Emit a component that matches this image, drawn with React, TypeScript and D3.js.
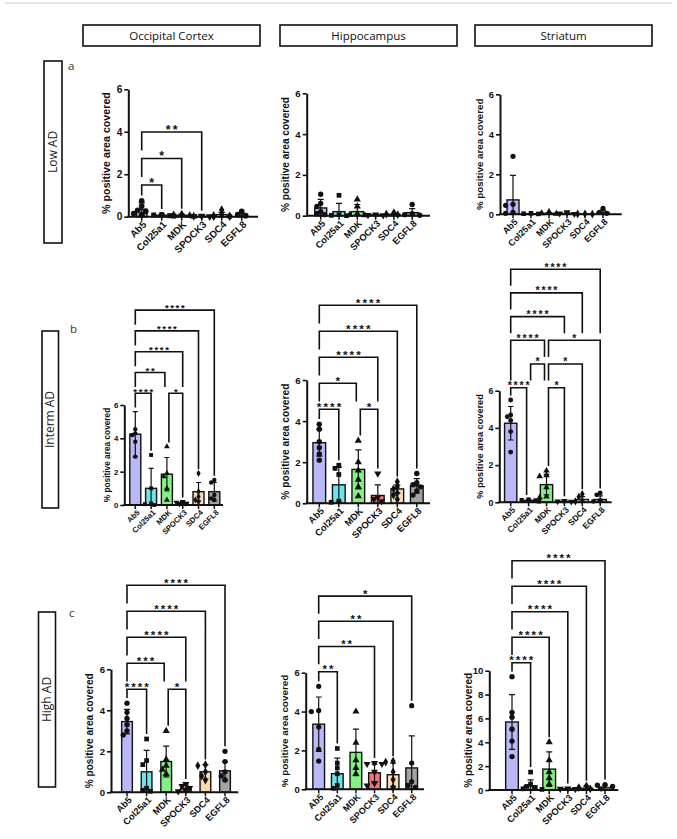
import React, { useEffect, useRef } from 'react';
import * as d3 from 'd3';

const W = 677;
const H = 839;

const categories = ['Ab5', 'Col25a1', 'MDK', 'SPOCK3', 'SDC4', 'EGFL8'];
const regions = ['Occipital Cortex', 'Hippocampus', 'Striatum'];
const stages = ['Low AD', 'Interm AD', 'High AD'];
const stageLetters = ['a', 'b', 'c'];
const ticksSix = [0, 2, 4, 6];
const ticksTen = [0, 2, 4, 6, 8, 10];
const yLabel = '% positive area covered';

// [from, to, stars, stack level]
type Sig = [number, number, string, number];

// ---- Low AD ----
const ocLowMean = [0.35, 0.07, 0.07, 0.02, 0.1, 0.08];
const ocLowSd = [0.3, 0.04, 0.04, 0.01, 0.1, 0.08];
const ocLowPts = [[0.75, 0.5, 0.3, 0.25, 0.15, 0.1], [0.1, 0.08, 0.05, 0.03], [0.12, 0.08, 0.05, 0.02], [0.03, 0.02, 0.01, 0.0], [0.32, 0.1, 0.05, 0.02], [0.25, 0.1, 0.05, 0.02]];
const ocLowSig: Sig[] = [[0, 1, '*', 0], [0, 2, '*', 1], [0, 3, '**', 2]];

const hcLowMean = [0.38, 0.2, 0.2, 0.04, 0.07, 0.15];
const hcLowSd = [0.42, 0.4, 0.35, 0.02, 0.05, 0.2];
const hcLowPts = [[1.05, 0.6, 0.45, 0.2, 0.1, 0.05], [1.0, 0.05, 0.02, 0.0], [0.8, 0.45, 0.1, 0.05, 0.02], [0.05, 0.03, 0.02], [0.15, 0.08, 0.05], [0.55, 0.1, 0.05, 0.02]];
const hcLowSig: Sig[] = [];

const stLowMean = [0.72, 0.03, 0.05, 0.04, 0.02, 0.1];
const stLowSd = [1.23, 0.01, 0.03, 0.03, 0.01, 0.1];
const stLowPts = [[2.9, 0.5, 0.45, 0.1, 0.05], [0.05, 0.03, 0.02], [0.12, 0.05, 0.03], [0.1, 0.04, 0.02], [0.03, 0.02, 0.01], [0.3, 0.1, 0.05]];
const stLowSig: Sig[] = [];

// ---- Interm AD ----
const ocIntMean = [4.25, 1.0, 1.85, 0.15, 0.8, 0.8];
const ocIntSd = [1.35, 1.2, 1.0, 0.05, 0.55, 0.55];
const ocIntPts = [[4.55, 4.3, 4.2, 3.8, 2.9], [3.0, 1.0, 0.1, 0.05, 0.0], [3.5, 1.9, 1.7, 1.0, 0.3], [0.2, 0.15, 0.1, 0.05], [1.9, 0.8, 0.5, 0.3, 0.2], [1.5, 1.35, 0.6, 0.4, 0.3]];
const ocIntSig: Sig[] = [[0, 1, '****', 0], [2, 3, '*', 0], [0, 2, '**', 1], [0, 3, '****', 2], [0, 4, '****', 3], [0, 5, '****', 4]];

const hcIntMean = [2.95, 0.9, 1.65, 0.38, 0.7, 0.85];
const hcIntSd = [0.65, 0.85, 0.95, 0.52, 0.2, 0.35];
const hcIntPts = [[3.85, 3.6, 3.0, 2.7, 2.4, 2.1], [1.85, 1.7, 1.4, 0.1, 0.05], [3.05, 2.0, 1.6, 1.15, 0.8, 0.35], [1.45, 0.3, 0.2, 0.1], [1.05, 0.8, 0.7, 0.5, 0.4, 0.2], [1.45, 1.0, 0.9, 0.8, 0.6, 0.4]];
const hcIntSig: Sig[] = [[0, 1, '****', 0], [2, 3, '*', 0], [0, 2, '*', 1], [0, 3, '****', 2], [0, 4, '****', 3], [0, 5, '****', 4]];

const stIntMean = [4.25, 0.1, 0.95, 0.05, 0.15, 0.15];
const stIntSd = [0.9, 0.05, 0.55, 0.03, 0.15, 0.2];
const stIntPts = [[5.5, 4.7, 4.6, 4.4, 3.8, 2.7], [0.15, 0.12, 0.1, 0.05], [1.7, 1.45, 1.4, 0.8, 0.3, 0.25], [0.08, 0.05, 0.03], [0.45, 0.3, 0.1, 0.05], [0.5, 0.4, 0.1, 0.05]];
const stIntSig: Sig[] = [[0, 1, '****', 0], [2, 3, '*', 0], [1, 2, '*', 1], [2, 4, '*', 1], [0, 2, '****', 2], [2, 5, '*', 2], [0, 3, '****', 3], [0, 4, '****', 4], [0, 5, '****', 5]];

// ---- High AD ----
const ocHighMean = [3.45, 1.0, 1.5, 0.2, 1.0, 1.05];
const ocHighSd = [0.6, 1.05, 0.75, 0.15, 0.35, 0.45];
const ocHighPts = [[4.35, 3.9, 3.6, 3.3, 3.0, 2.8], [2.6, 1.55, 1.35, 0.2, 0.1, 0.05], [3.0, 1.6, 1.3, 1.1, 0.9], [0.4, 0.3, 0.2, 0.1, 0.05], [1.35, 1.3, 1.0, 0.8, 0.6], [2.0, 1.5, 1.0, 0.8, 0.6]];
const ocHighSig: Sig[] = [[0, 1, '****', 0], [2, 3, '*', 0], [0, 2, '***', 1], [0, 3, '****', 2], [0, 4, '****', 3], [0, 5, '****', 4]];

const hcHighMean = [3.35, 0.8, 1.9, 0.85, 0.75, 1.1];
const hcHighSd = [1.4, 0.8, 1.2, 0.45, 0.6, 1.65];
const hcHighPts = [[5.3, 4.05, 4.0, 3.2, 2.05, 1.45], [2.1, 1.35, 1.1, 0.8, 0.2, 0.05], [4.0, 2.4, 1.5, 1.1, 0.8], [1.35, 1.3, 1.3, 0.9, 0.3, 0.2], [1.45, 1.4, 0.9, 0.5, 0.1], [4.3, 1.35, 0.4, 0.2, 0.1]];
const hcHighSig: Sig[] = [[0, 1, '**', 0], [0, 3, '**', 1], [0, 4, '**', 2], [0, 5, '*', 3]];

const stHighMean = [5.7, 0.35, 1.75, 0.1, 0.15, 0.2];
const stHighSd = [2.3, 0.5, 1.45, 0.03, 0.15, 0.2];
const stHighPts = [[9.5, 6.5, 6.1, 5.1, 4.1, 2.8], [1.5, 0.5, 0.3, 0.2, 0.1, 0.05], [4.0, 2.5, 1.5, 1.0, 0.5], [0.12, 0.1, 0.08], [0.35, 0.2, 0.1], [0.45, 0.4, 0.3, 0.1]];
const stHighSig: Sig[] = [[0, 1, '****', 0], [0, 2, '****', 1], [0, 3, '****', 2], [0, 4, '****', 3], [0, 5, '****', 4]];

// styling
const barColors = ['#b9b9f7', '#6fe3ea', '#84f184', '#f27474', '#fbd9b0', '#a3a3a3'];
const symbolTypes = [d3.symbolCircle, d3.symbolSquare, d3.symbolTriangle, d3.symbolTriangle, d3.symbolDiamond, d3.symbolCircle];
const flipSymbol = [false, false, false, true, false, false];
const axisFont = '"Liberation Sans", Arial, sans-serif';
const boxFont = '"Open Sans", "Noto Sans", sans-serif';

// frame layout
const headerX = [83, 280, 475];
const rowBoxes = [
  { x: 44, y: 61, w: 18, h: 182, lx: 68, ly: 70 },
  { x: 42, y: 331, w: 16.5, h: 177, lx: 70, ly: 333 },
  { x: 38.5, y: 612, w: 17, h: 175, lx: 69, ly: 617 },
];

interface Panel {
  mean: number[]; sd: number[]; pts: number[][]; sig: Sig[];
  yMax: number; ticks: number[];
  ax: number; yTop: number; y0: number; first: number; step: number; xEnd: number;
  barW: number; fs: number; base: number; gap: number;
}

const panels: Panel[] = [
  { mean: ocLowMean, sd: ocLowSd, pts: ocLowPts, sig: ocLowSig, yMax: 6, ticks: ticksSix, ax: 128.3, yTop: 89.3, y0: 216.7, first: 141.7, step: 20, xEnd: 258, barW: 10.5, fs: 10.7, base: 185, gap: 26.5 },
  { mean: hcLowMean, sd: hcLowSd, pts: hcLowPts, sig: hcLowSig, yMax: 6, ticks: ticksSix, ax: 306.7, yTop: 93.3, y0: 215.7, first: 320.7, step: 18.3, xEnd: 430, barW: 12, fs: 10.1, base: 0, gap: 25 },
  { mean: stLowMean, sd: stLowSd, pts: stLowPts, sig: stLowSig, yMax: 6, ticks: ticksSix, ax: 500, yTop: 94.3, y0: 214.3, first: 513, step: 18, xEnd: 621.7, barW: 12, fs: 9.8, base: 0, gap: 25 },
  { mean: ocIntMean, sd: ocIntSd, pts: ocIntPts, sig: ocIntSig, yMax: 6, ticks: ticksSix, ax: 124.3, yTop: 405, y0: 505, first: 135.3, step: 15.8, xEnd: 223, barW: 11, fs: 8.3, base: 393.3, gap: 20.8 },
  { mean: hcIntMean, sd: hcIntSd, pts: hcIntPts, sig: hcIntSig, yMax: 6, ticks: ticksSix, ax: 306.7, yTop: 380, y0: 503.3, first: 319.3, step: 19.5, xEnd: 430, barW: 12.7, fs: 10.2, base: 409.3, gap: 26 },
  { mean: stIntMean, sd: stIntSd, pts: stIntPts, sig: stIntSig, yMax: 6, ticks: ticksSix, ax: 499.3, yTop: 390.7, y0: 502.3, first: 510.7, step: 17.9, xEnd: 611.7, barW: 12.3, fs: 9.2, base: 387.7, gap: 23.7 },
  { mean: ocHighMean, sd: ocHighSd, pts: ocHighPts, sig: ocHighSig, yMax: 6, ticks: ticksSix, ax: 111, yTop: 669.3, y0: 792.3, first: 127, step: 19.6, xEnd: 238.3, barW: 10.7, fs: 10.1, base: 689.3, gap: 26 },
  { mean: hcHighMean, sd: hcHighSd, pts: hcHighPts, sig: hcHighSig, yMax: 6, ticks: ticksSix, ax: 305.7, yTop: 672.7, y0: 789.3, first: 318.7, step: 18.6, xEnd: 424, barW: 11.7, fs: 9.9, base: 671.7, gap: 25.2 },
  { mean: stHighMean, sd: stHighSd, pts: stHighPts, sig: stHighSig, yMax: 10, ticks: ticksTen, ax: 489.3, yTop: 670.7, y0: 790, first: 512, step: 18.6, xEnd: 618.3, barW: 12.7, fs: 10.1, base: 662.7, gap: 25.5 },
];

function drawPanel(svg: d3.Selection<SVGSVGElement, unknown, null, undefined>, p: Panel) {
  const g = svg.append('g');
  const fs = p.fs;
  const k = fs / 10;
  const x = d3.scalePoint<string>().domain(categories).range([p.first, p.first + p.step * (categories.length - 1)]);
  const y = d3.scaleLinear().domain([0, p.yMax]).range([p.y0, p.yTop]);

  // bars
  categories.forEach((c, i) => {
    const cx = x(c)!;
    g.append('rect')
      .attr('x', cx - p.barW / 2).attr('y', y(p.mean[i]))
      .attr('width', p.barW).attr('height', p.y0 - y(p.mean[i]))
      .attr('fill', barColors[i]).attr('stroke', '#111').attr('stroke-width', 1.4);
  });

  // individual points, nudged sideways when they overlap
  const r = 2.5 * k;
  categories.forEach((c, i) => {
    const cx = x(c)!;
    const placed: { x: number; y: number }[] = [];
    const sym = d3.symbol().type(symbolTypes[i]).size(22 * k * k);
    p.pts[i].forEach(v => {
      const py = y(v);
      let px = cx;
      for (const o of [0, -1, 1, -2, 2, -3, 3]) {
        px = cx + o * r * 1.5;
        if (placed.every(q => Math.hypot(q.x - px, q.y - py) >= r * 1.7)) break;
      }
      placed.push({ x: px, y: py });
      g.append('path').attr('d', sym()!)
        .attr('transform', `translate(${px},${py})${flipSymbol[i] ? ' rotate(180)' : ''}`)
        .attr('fill', '#111');
    });
  });

  // error bars (mean ± SD)
  categories.forEach((c, i) => {
    const cx = x(c)!;
    const top = y(p.mean[i] + p.sd[i]);
    const bot = y(Math.max(0, p.mean[i] - p.sd[i]));
    const cw = 3 * k;
    g.append('path')
      .attr('d', `M${cx},${bot}V${top}M${cx - cw},${top}H${cx + cw}M${cx - cw},${bot}H${cx + cw}`)
      .attr('stroke', '#111').attr('stroke-width', 1.2).attr('fill', 'none');
  });

  // axes
  const yAxis = g.append('g').attr('transform', `translate(${p.ax},0)`)
    .call(d3.axisLeft(y).tickValues(p.ticks).tickFormat(d3.format('d')).tickSize(4).tickSizeOuter(0).tickPadding(2));
  yAxis.select('.domain').attr('stroke', '#111').attr('stroke-width', 2);
  yAxis.selectAll('.tick line').attr('stroke', '#111').attr('stroke-width', 1.6);
  yAxis.selectAll('.tick text').attr('fill', '#111')
    .attr('font-family', axisFont).attr('font-size', fs * 0.95).attr('font-weight', 'bold');

  g.append('line').attr('x1', p.ax - 1).attr('x2', p.xEnd).attr('y1', p.y0).attr('y2', p.y0)
    .attr('stroke', '#111').attr('stroke-width', 2);
  categories.forEach(c => {
    const cx = x(c)!;
    g.append('line').attr('x1', cx).attr('x2', cx).attr('y1', p.y0).attr('y2', p.y0 + 4)
      .attr('stroke', '#111').attr('stroke-width', 1.5);
    g.append('text')
      .attr('transform', `translate(${cx + 3},${p.y0 + 6}) rotate(-45)`)
      .attr('text-anchor', 'end').attr('dy', '0.35em')
      .attr('font-family', axisFont).attr('font-size', fs * 0.92).attr('font-weight', 'bold')
      .attr('fill', '#111').text(c);
  });

  g.append('text')
    .attr('transform', `translate(${p.ax - 1.75 * fs},${(p.y0 + p.yTop) / 2}) rotate(-90)`)
    .attr('text-anchor', 'middle')
    .attr('font-family', axisFont).attr('font-size', fs).attr('font-weight', 'bold')
    .attr('fill', '#111').text(yLabel);

  // significance brackets
  const levelY = (lv: number) => p.base - lv * p.gap;
  const dataTop = (i: number) => Math.max(d3.max(p.pts[i]) ?? 0, p.mean[i] + p.sd[i]);
  const legBottom = (col: number, lv: number) => {
    const below = p.sig.filter(s => s[3] < lv && s[0] <= col && s[1] >= col).map(s => levelY(s[3]));
    if (below.length) return (d3.min(below) as number) - p.gap * 0.3;
    return y(dataTop(col)) - 5 * k;
  };
  p.sig.forEach(([a, b, lab, lv]) => {
    const yb = levelY(lv);
    const xa = x(categories[a])! + (p.sig.some(s => s[1] === a) ? 2 : 0);
    const xb = x(categories[b])! - (p.sig.some(s => s[0] === b) ? 2 : 0);
    g.append('path')
      .attr('d', `M${xa},${legBottom(a, lv)}V${yb}H${xb}V${legBottom(b, lv)}`)
      .attr('stroke', '#111').attr('stroke-width', 1.6).attr('fill', 'none');
    const ls = fs * 0.2;
    g.append('text')
      .attr('x', (xa + xb) / 2 + ls / 2).attr('y', yb + fs * 0.15)
      .attr('text-anchor', 'middle')
      .attr('font-family', axisFont).attr('font-size', fs * 1.15).attr('font-weight', 'bold')
      .attr('letter-spacing', ls)
      .attr('fill', '#111').text(lab);
  });
}

const App: React.FC = () => {
  const svgRef = useRef<SVGSVGElement>(null);

  useEffect(() => {
    if (!svgRef.current) return;
    const svg = d3.select(svgRef.current);
    svg.selectAll('*').remove();

    svg.append('rect').attr('width', W).attr('height', H).attr('fill', '#fff');
    svg.append('line').attr('x1', 5).attr('x2', 672).attr('y1', 3).attr('y2', 3)
      .attr('stroke', '#e6e6e6').attr('stroke-width', 2);

    regions.forEach((name, i) => {
      svg.append('rect').attr('x', headerX[i]).attr('y', 25).attr('width', 177).attr('height', 21)
        .attr('fill', '#fff').attr('stroke', '#111').attr('stroke-width', 1.6);
      svg.append('text').attr('x', headerX[i] + 88.5).attr('y', 40).attr('text-anchor', 'middle')
        .attr('font-family', boxFont).attr('font-size', 11.5).attr('fill', '#111').text(name);
    });

    stages.forEach((name, i) => {
      const b = rowBoxes[i];
      svg.append('rect').attr('x', b.x).attr('y', b.y).attr('width', b.w).attr('height', b.h)
        .attr('fill', '#fff').attr('stroke', '#111').attr('stroke-width', 1.6);
      svg.append('text')
        .attr('transform', `translate(${b.x + b.w / 2 + 4},${b.y + b.h / 2}) rotate(-90)`)
        .attr('text-anchor', 'middle')
        .attr('font-family', boxFont).attr('font-size', 12).attr('fill', '#222').text(name);
      svg.append('text').attr('x', b.lx).attr('y', b.ly)
        .attr('font-family', boxFont).attr('font-size', 11.5).attr('fill', '#333').text(stageLetters[i]);
    });

    panels.forEach(p => drawPanel(svg, p));
  }, []);

  return (
    <svg ref={svgRef} width={W} height={H}
      style={{ position: 'absolute', left: 0, top: 0, background: '#fff' }} />
  );
};

export default App;
